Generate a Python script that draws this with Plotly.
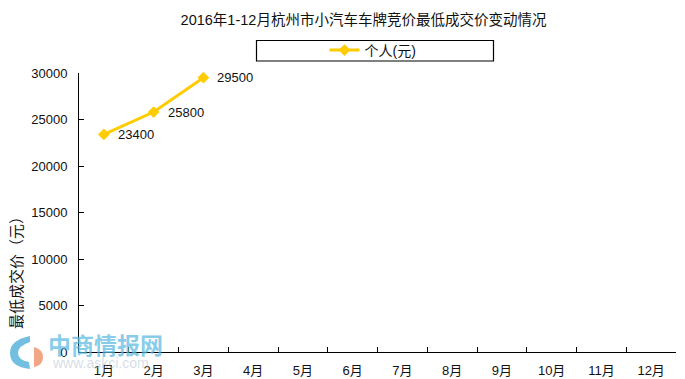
import plotly.graph_objects as go

months = ["1月", "2月", "3月", "4月", "5月", "6月", "7月", "8月", "9月", "10月", "11月", "12月"]
values = [23400, 25800, 29500, None, None, None, None, None, None, None, None, None]
labels = ["23400", "25800", "29500"] + [""] * 9
y_ticks = [0, 5000, 10000, 15000, 20000, 25000, 30000]

W, H = 685, 379
L, R, T, B = 79, 676, 73, 352
FONT = "Liberation Sans, Noto Sans CJK SC, sans-serif"
YELLOW = "#FFCC00"

def px(x):
    return (x - L) / (R - L)

def py(y):
    return (B - y) / (B - T)

fig = go.Figure()
fig.add_trace(go.Scatter(
    x=months, y=values, name="个人(元)", mode="lines+markers",
    line=dict(color=YELLOW, width=3),
    marker=dict(symbol="diamond", size=9, color=YELLOW),
    cliponaxis=False,
))

# value labels sit to the right of each point
for m, v, t in zip(months, values, labels):
    if v is not None:
        fig.add_annotation(x=m, y=v, text=t, showarrow=False, xanchor="left",
                           xshift=12, font=dict(size=13, color="#111"))

# legend frame
fig.add_shape(type="rect", xref="paper", yref="paper", x0=px(256.5), x1=px(493.5),
              y0=py(61), y1=py(40.5), line=dict(color="black", width=1.2), fillcolor="white", layer="below")

# y axis title placed explicitly
fig.add_annotation(xref="paper", yref="paper", x=px(16), y=py(269), text="最低成交价（元）", showarrow=False,
                   textangle=-90, xanchor="center", yanchor="middle", font=dict(size=15, color="#111"))

# watermark
fig.add_annotation(xref="paper", yref="paper", x=px(46), y=py(346), text="<b>中商情报网</b>", showarrow=False,
                   xanchor="left", yanchor="middle", font=dict(size=23, color="rgba(90,185,225,0.72)"))
fig.add_annotation(xref="paper", yref="paper", x=px(50), y=py(363), text="www.askci.com", showarrow=False,
                   xanchor="left", yanchor="middle", font=dict(size=14, color="rgba(170,190,205,0.5)"))
fig.add_shape(type="path", xref="paper", yref="paper",
              path=f"M {px(30)} {py(336)} Q {px(10)} {py(340)} {px(10)} {py(353)} Q {px(10)} {py(367)} {px(30)} {py(369)} "
                   f"L {px(29)} {py(362)} Q {px(18)} {py(360)} {px(18)} {py(353)} Q {px(18)} {py(346)} {px(30)} {py(342)} Z",
              fillcolor="rgba(90,180,220,0.85)", line=dict(width=0))
fig.add_shape(type="path", xref="paper", yref="paper",
              path=f"M {px(34)} {py(347)} Q {px(44)} {py(350)} {px(43)} {py(358)} Q {px(42)} {py(366)} {px(34)} {py(367)} Z",
              fillcolor="rgba(240,150,110,0.85)", line=dict(width=0))

fig.update_layout(
    width=W, height=H,
    margin=dict(l=L, r=W - R, t=T, b=H - B, autoexpand=False),
    paper_bgcolor="white", plot_bgcolor="white",
    font=dict(family=FONT, size=13, color="#111"),
    title=dict(text="2016年1-12月杭州市小汽车车牌竞价最低成交价变动情况", x=363.5 / W, xanchor="center",
               y=1 - 20 / H, yanchor="middle", font=dict(size=14.5, color="#111")),
    showlegend=True,
    legend=dict(orientation="h", x=px(373), xanchor="center", y=py(50.5), yanchor="middle",
                bgcolor="rgba(0,0,0,0)", font=dict(size=14), itemwidth=30),
    xaxis=dict(type="category", categoryorder="array", categoryarray=months, range=[-0.5, 11.5],
               tickson="boundaries", ticks="inside", ticklen=5, tickcolor="black", tickwidth=1,
               showline=True, linecolor="black", linewidth=1, showgrid=False, zeroline=False,
               tickfont=dict(size=13), ticklabelstandoff=6, automargin=False),
    yaxis=dict(range=[0, 30000], tickvals=y_ticks, tickformat="d", ticks="inside", ticklen=5,
               tickcolor="black", tickwidth=1, showline=True, linecolor="black", linewidth=1,
               showgrid=False, zeroline=False, tickfont=dict(size=13), ticklabelstandoff=8, automargin=False),
)
fig.write_html("out.html", config=dict(displayModeBar=False), post_script="document.body.style.margin='0';")
